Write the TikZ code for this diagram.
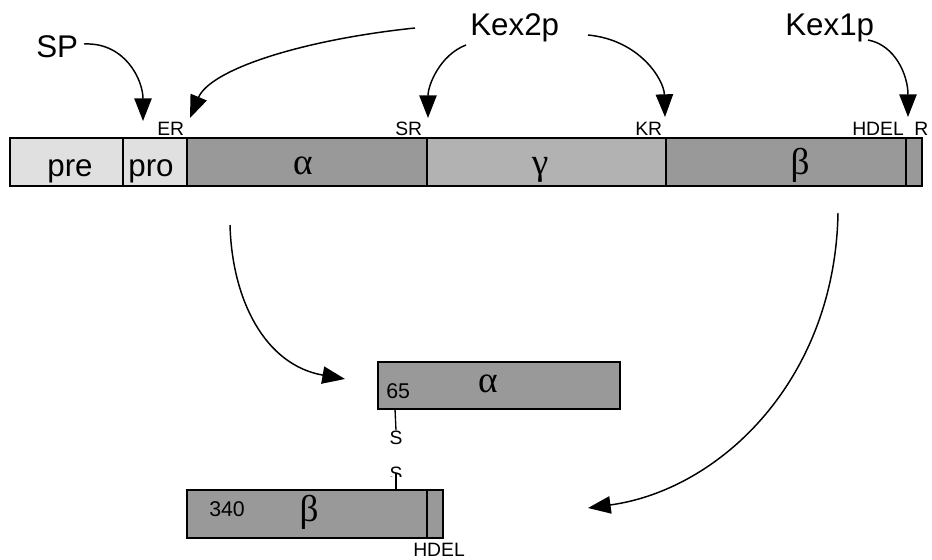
\documentclass[tikz,border=0pt]{standalone}
\usepackage{fontspec}
\setmainfont{Liberation Sans}
\newfontfamily\grk{Liberation Serif}
\usetikzlibrary{arrows.meta,fit}
\definecolor{lt}{RGB}{224,224,224}
\definecolor{dk}{RGB}{153,153,153}
\definecolor{md}{RGB}{178,178,178}
\begin{document}
\begin{tikzpicture}[x=0.75pt,y=-0.75pt,
 seg/.style={draw=black, line width=1.4pt, inner sep=0pt},
 lab/.style={font=\fontsize{23.5}{25}\selectfont, anchor=base, inner sep=0pt},
 labw/.style={lab, anchor=base west},
 sml/.style={font=\fontsize{14.5}{17}\selectfont, anchor=base west, inner sep=0pt},
 num/.style={font=\fontsize{16}{18}\selectfont, anchor=base west, inner sep=0pt},
 grl/.style={font=\grk\fontsize{28}{30}\selectfont, anchor=base, inner sep=0pt},
 arr/.style={line width=1.1pt, -{Triangle[width=13pt,length=17pt]}},
 tie/.style={line width=1pt}]
\useasboundingbox (0,0) rectangle (932,560);
% main precursor bar
\node[seg,fill=lt,fit={(10,138)(123,186)}] (pre) {};
\node[seg,fill=lt,fit={(123,138)(187,186)}] (pro) {};
\node[seg,fill=dk,fit={(187,138)(427,186)}] (alpha) {};
\node[seg,fill=md,fit={(427,138)(666,186)}] (gamma) {};
\node[seg,fill=dk,fit={(666,138)(906,186)}] (beta) {};
\node[seg,fill=dk,fit={(906,138)(922,186)}] (rtail) {};
\node[lab] (tpre) at (70,176) {pre};
\node[lab] (tpro) at (151,176) {pro};
\node[grl] (talpha) at (303,174) {α};
\node[grl] (tgamma) at (540,174) {γ};
\node[grl] (tbeta) at (800,174) {β};
% site labels
\node[sml] (ER) at (157,135) {ER};
\node[sml] (SR) at (395,136) {SR};
\node[sml] (KR) at (635,136) {KR};
\node[sml] (HDEL) at (852,136) {HDEL};
\node[sml] (R) at (914,136) {R};
% enzymes
\node[labw] (SP) at (36,58) {SP};
\node[labw] (Kex2p) at (470,36) {Kex2p};
\node[labw] (Kex1p) at (785,36) {Kex1p};
% arrow coordinates
\coordinate (sSP) at (84,44);
\coordinate (eSP) at (143,121);
\coordinate (sK2a) at (415,28);
\coordinate (eK2a) at (190,118);
\coordinate (sK2b) at (466,45);
\coordinate (eK2b) at (428,118);
\coordinate (sK2c) at (588,35);
\coordinate (eK2c) at (665,117);
\coordinate (sK1) at (868,40);
\coordinate (eK1) at (908,117);
\coordinate (sLa) at (230,225);
\coordinate (eLa) at (345,379);
\coordinate (sLb) at (838,213);
\coordinate (eLb) at (588,508);
\draw[arr] (sSP) .. controls (125,42) and (143,80) .. (eSP);
\draw[arr] (sK2a) .. controls (300,40) and (210,70) .. (eK2a);
\draw[arr] (sK2b) .. controls (440,55) and (428,85) .. (eK2b);
\draw[arr] (sK2c) .. controls (640,40) and (664,80) .. (eK2c);
\draw[arr] (sK1) .. controls (895,45) and (908,75) .. (eK1);
\draw[arr] (sLa) .. controls (232,300) and (265,365) .. (eLa);
\draw[arr] (sLb) .. controls (835,380) and (720,490) .. (eLb);
% mature alpha chain
\node[seg,fill=dk,fit={(378,362)(620,409)}] (malpha) {};
\node[num] (n65) at (386,398) {65};
\node[grl] (tmalpha) at (488,392) {α};
\node[sml, anchor=base] (S1) at (396,444) {S};
\draw[tie] (395,409) -- (S1.north);
% mature beta chain
\node[seg,fill=dk,fit={(187,490)(427,538)}] (mbeta) {};
\node[seg,fill=dk,fit={(427,490)(443,538)}] (mbtail) {};
\node[num] (n340) at (209,516) {340};
\node[grl] (tmbeta) at (309,521) {β};
\node[sml] (HDEL2) at (413,556) {HDEL};
\begin{scope}
\clip (380,455) rectangle (412,476);
\node[sml, anchor=base] (S2) at (396,480) {S};
\end{scope}
\coordinate (tieTop) at (396,473);
\draw[tie] (tieTop) -- (396,490);
\end{tikzpicture}
\end{document}
